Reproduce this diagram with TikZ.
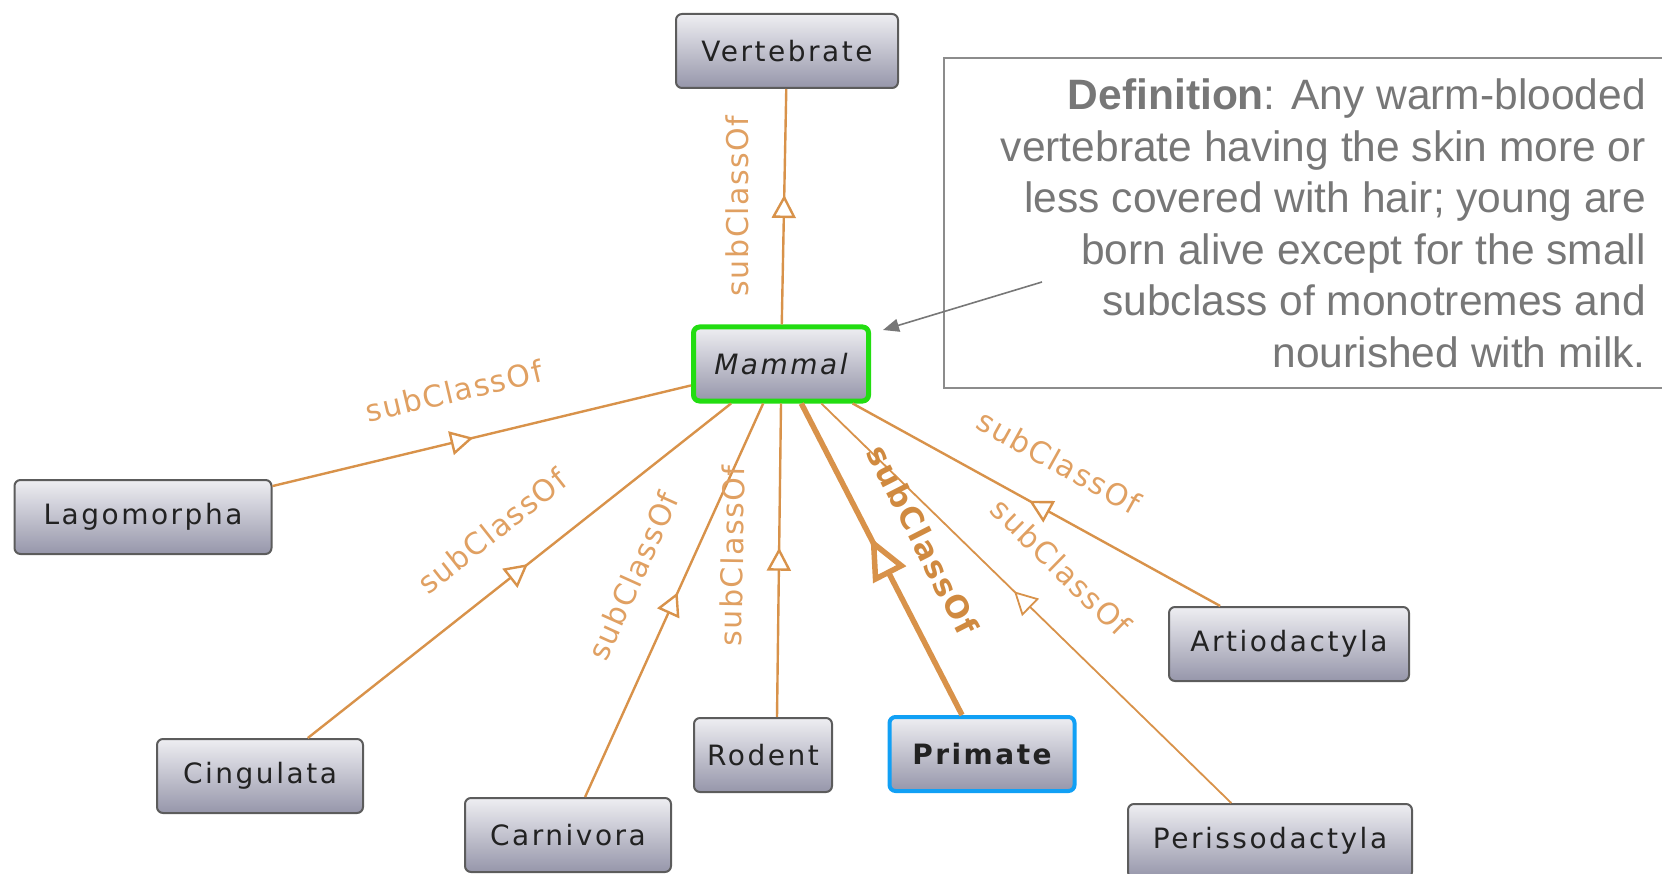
\documentclass[tikz,border=0pt]{standalone}
\usepackage{fontspec}
\setmainfont{DejaVu Sans}
\newfontfamily\nodefont[LetterSpace=9]{DejaVu Sans}
\newfontfamily\labfont[LetterSpace=5]{DejaVu Sans}
\newfontfamily\deffont{Liberation Sans}
\usetikzlibrary{arrows.meta,decorations.markings}

\definecolor{edgecol}{HTML}{D8924A}
\definecolor{labcol}{HTML}{E0A062}
\definecolor{labdark}{HTML}{D08A40}
\definecolor{nodetop}{HTML}{EEEEF2}
\definecolor{nodebot}{HTML}{9696AA}
\definecolor{nodeborder}{HTML}{5C5C5C}
\definecolor{nodetext}{HTML}{222222}
\definecolor{greenb}{HTML}{22DD11}
\definecolor{blueb}{HTML}{11A0F5}
\definecolor{defgray}{HTML}{777777}
\definecolor{boxgray}{HTML}{8C8C8C}

\tikzset{
  cls/.style={draw=nodeborder, line width=2pt, rounded corners=6pt,
    top color=nodetop, bottom color=nodebot, text=nodetext,
    font=\nodefont\fontsize{28}{32}\selectfont, inner sep=0pt,
    minimum height=74pt},
  subedge/.style={draw=edgecol, line width=2.4pt,
    postaction={decorate, decoration={markings,
      mark=at position #1 with {\arrow[edgecol]{Triangle[length=23pt,width=24pt,fill=white]}}}}},
  thickedge/.style={draw=edgecol, line width=5.5pt,
    postaction={decorate, decoration={markings,
      mark=at position #1 with {\arrow[edgecol]{Triangle[length=42pt,width=36pt,fill=white]}}}}},
  lab/.style={text=labcol, font=\labfont\fontsize{30}{34}\selectfont, inner sep=0pt},
  deftext/.style={text=defgray, font=\deffont\fontsize{42.5}{51.5}\selectfont,
    align=right, inner sep=0pt},
  boxline/.style={draw=boxgray, line width=2pt},
  ptr/.style={draw=defgray, line width=1.6pt, -{Triangle[length=16pt,width=13pt]}},
}

\begin{document}
\begin{tikzpicture}[x=1pt,y=-1pt]
\path[use as bounding box] (0,0) rectangle (1662,874);
\clip (0,0) rectangle (1662,874);

% nodes
\node[cls, minimum width=222pt] (vert) at (787,51) {Vertebrate};
\node[cls, draw=greenb, line width=5pt, minimum width=175pt, minimum height=74pt, font=\nodefont\fontsize{28}{32}\selectfont\itshape] (mammal) at (781,364) {Mammal};
\node[cls, minimum width=257pt] (lago) at (143,517) {Lagomorpha};
\node[cls, minimum width=206pt] (cing) at (260,776) {Cingulata};
\node[cls, minimum width=206pt] (carn) at (568,835) {Carnivora};
\node[cls, minimum width=138pt] (rod) at (763,755) {Rodent};
\node[cls, draw=blueb, line width=4pt, minimum width=185pt, font=\nodefont\fontsize{28}{32}\selectfont\bfseries] (prim) at (982,754) {Primate};
\node[cls, minimum width=240pt] (artio) at (1289,644) {Artiodactyla};
\node[cls, minimum width=284pt] (peri) at (1270,841) {Perissodactyla};

% edges
\draw[subedge=0.55] (mammal) -- (vert);
\draw[subedge=0.48] (lago) -- (mammal);
\draw[subedge=0.52] (cing) -- (mammal);
\draw[subedge=0.52] (carn) -- (mammal);
\draw[subedge=0.54] ([xshift=14pt]rod.north) -- (mammal.south);
\draw[thickedge=0.57] (prim) -- (mammal);
\draw[subedge=0.52] (artio) -- (mammal);
\draw[subedge=0.53, line width=1.8pt] (peri) -- (mammal);

% labels
\node[lab, rotate=90] (l1) at (737,206) {subClassOf};
\node[lab, rotate=13.3] (l2) at (454,391) {subClassOf};
\node[lab, rotate=38.3] (l3) at (492,531) {subClassOf};
\node[lab, rotate=65.7] (l4) at (633,576) {subClassOf};
\node[lab, rotate=89] (l5) at (732,556) {subClassOf};
\node[lab, rotate=-63, text=labdark, font=\labfont\fontsize{31}{34}\selectfont\bfseries] (l6) at (923,540) {subClassOf};
\node[lab, rotate=-29.1] (l7) at (1059,462) {subClassOf};
\node[lab, rotate=-44.4] (l8) at (1061,567) {subClassOf};

% definition box
\coordinate (boxA) at (944,58);
\coordinate (boxB) at (1700,388);
\draw[boxline] (boxA) rectangle (boxB);
\node[deftext, anchor=north east] (def) at (1646,79) {\textbf{Definition}: Any warm-blooded\\vertebrate having the skin more or\\less covered with hair; young are\\born alive except for the small\\subclass of monotremes and\\nourished with milk.};

% pointer
\coordinate (ptrS) at (1042,282);
\coordinate (ptrE) at (883,330);
\draw[ptr] (ptrS) -- (ptrE);
\end{tikzpicture}
\end{document}
